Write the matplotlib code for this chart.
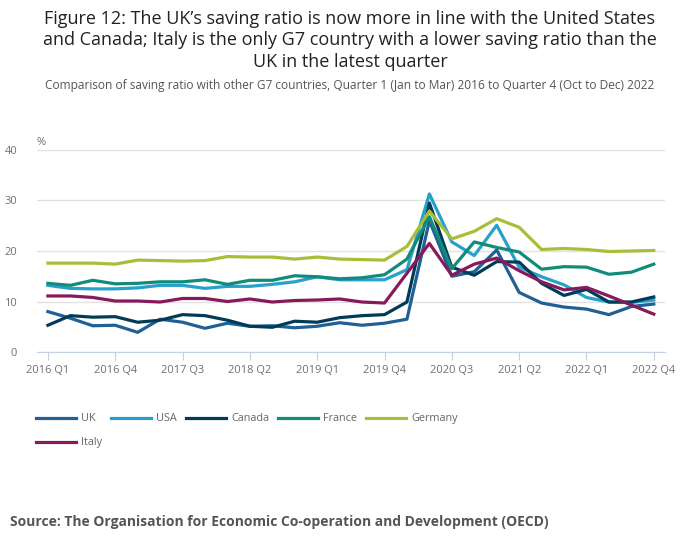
import matplotlib.pyplot as plt
import numpy as np

plt.rcParams['font.family'] = ['Open Sans', 'DejaVu Sans']

# quarters 2016 Q1 .. 2022 Q4
quarters = [f"{y} Q{q}" for y in range(2016, 2023) for q in range(1, 5)]

uk = [8.0, 6.7, 5.2, 5.3, 3.9, 6.5, 5.9, 4.7, 5.7, 5.1, 5.2, 4.8, 5.1, 5.8,
      5.3, 5.7, 6.5, 26.0, 15.0, 15.9, 20.2, 11.8, 9.7, 8.9, 8.5, 7.4, 9.0, 9.5]
usa = [13.2, 12.6, 12.5, 12.5, 12.7, 13.2, 13.2, 12.6, 13.0, 13.0, 13.4, 13.9, 14.9, 14.3,
       14.3, 14.3, 16.3, 31.3, 21.8, 19.1, 25.1, 16.8, 14.9, 13.3, 10.8, 9.9, 9.8, 10.3]
canada = [5.3, 7.2, 6.9, 7.0, 5.9, 6.3, 7.4, 7.2, 6.3, 5.1, 4.9, 6.1, 5.9, 6.8,
          7.2, 7.4, 9.9, 29.5, 16.8, 15.2, 17.9, 17.8, 13.6, 11.2, 12.4, 9.9, 9.9, 10.9]
france = [13.6, 13.2, 14.2, 13.5, 13.6, 13.9, 13.9, 14.3, 13.4, 14.2, 14.2, 15.1, 14.9, 14.5,
          14.7, 15.3, 18.4, 26.8, 16.5, 21.8, 20.7, 19.8, 16.4, 16.9, 16.8, 15.4, 15.8, 17.4]
germany = [17.6, 17.6, 17.6, 17.4, 18.2, 18.1, 18.0, 18.1, 18.9, 18.8, 18.8, 18.4, 18.8, 18.4,
           18.3, 18.2, 20.9, 27.9, 22.4, 23.9, 26.4, 24.7, 20.3, 20.5, 20.3, 19.9, 20.0, 20.1]
italy = [11.1, 11.1, 10.8, 10.1, 10.1, 9.9, 10.6, 10.6, 10.0, 10.5, 9.9, 10.2, 10.3, 10.5,
         9.9, 9.7, 15.6, 21.5, 15.2, 17.4, 18.6, 16.1, 13.9, 12.3, 12.8, 11.1, 9.3, 7.5]

series = [("UK", uk, "#206095"), ("USA", usa, "#27a0cc"), ("Canada", canada, "#003c57"),
          ("France", france, "#118c7b"), ("Germany", germany, "#a8bd3a"), ("Italy", italy, "#871a5b")]

fig = plt.figure(figsize=(7, 5.49), dpi=100)
ax = fig.add_axes([0.0524, 0.3588, 0.8976, 0.368])

x = np.arange(len(quarters))
lines = {}
for name, vals, col in series:
    lines[name], = ax.plot(x, vals, color=col, lw=2.3, label=name)

ax.set_xlim(-0.5, len(quarters) - 0.5)
ax.set_ylim(0, 40)
ax.set_yticks([0, 10, 20, 30, 40])
ax.set_xticks(x[::3])
ax.set_xticklabels(quarters[::3])
ax.grid(axis='y', color='#e2e2e2', lw=1)
ax.set_axisbelow(True)
for s in ['top', 'right', 'left']:
    ax.spines[s].set_visible(False)
ax.spines['bottom'].set_color('#c2d0e6')
ax.tick_params(axis='x', colors='#c2d0e6', length=6, labelcolor='#707070', labelsize=8, pad=3)
ax.tick_params(axis='y', length=0, labelcolor='#707070', labelsize=8, pad=14)
ax.text(0.0, 1.01, "%", transform=ax.transAxes, fontsize=8, color='#707070', ha='left', va='bottom')

fig.text(0.5, 0.982, "Figure 12: The UK’s saving ratio is now more in line with the United States\n"
         "and Canada; Italy is the only G7 country with a lower saving ratio than the\n"
         "UK in the latest quarter", ha='center', va='top', fontsize=13, color='#222222',
         linespacing=1.25)
fig.text(0.5, 0.845, "Comparison of saving ratio with other G7 countries, Quarter 1 (Jan to Mar) 2016 "
         "to Quarter 4 (Oct to Dec) 2022", ha='center', va='center', fontsize=8.6, color='#555555')

# legend fills column-wise, so order it to read row-wise
order = ["UK", "Italy", "USA", "Canada", "France", "Germany"]
fig.legend([lines[n] for n in order], order, loc='upper left', bbox_to_anchor=(0.045, 0.255),
           ncol=5, frameon=False, handlelength=3.7, columnspacing=0.85, handletextpad=0.45,
           fontsize=7.8, labelcolor='#666666', borderaxespad=0, labelspacing=1.2)

fig.text(0.014, 0.05, "Source: The Organisation for Economic Co-operation and Development (OECD)",
         ha='left', va='center', fontsize=10, fontweight='bold', color='#555555')

fig.savefig("out.png", dpi=100)
